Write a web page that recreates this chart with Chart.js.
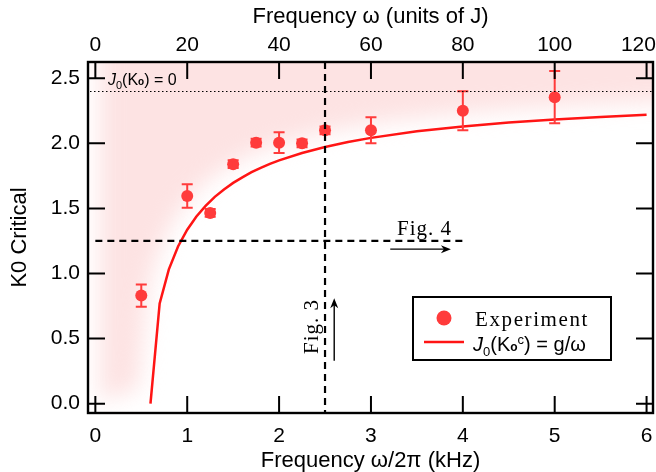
<!DOCTYPE html>
<html><head><meta charset="utf-8">
<script src="https://cdn.jsdelivr.net/npm/chart.js@4/dist/chart.umd.min.js"></script>
<style>html,body{margin:0;padding:0;background:#fff;overflow:hidden}</style>
</head><body><canvas id="c" width="656" height="472"></canvas>
<script>
// ---- data ----
const expFreq = [0.5, 1.0, 1.25, 1.5, 1.75, 2.0, 2.25, 2.5, 3.0, 4.0, 5.0];
const expK0   = [0.83, 1.595, 1.465, 1.84, 2.005, 2.005, 2.0, 2.10, 2.10, 2.25, 2.355];
const expErr  = [0.085, 0.09, 0.03, 0.03, 0.03, 0.08, 0.03, 0.03, 0.10, 0.15, 0.20];
const curveFreq = [0.6, 0.7, 0.8, 0.9, 1.0, 1.1, 1.2, 1.3, 1.4, 1.5, 1.6, 1.7, 1.8, 1.9, 2.0, 2.25, 2.5, 2.75, 3.0, 3.5, 4.0, 4.5, 5.0, 5.5, 6.0];
const curveK0   = [0.0, 0.77, 1.032, 1.208, 1.336, 1.438, 1.52, 1.589, 1.646, 1.696, 1.739, 1.778, 1.812, 1.842, 1.869, 1.926, 1.972, 2.010, 2.042, 2.093, 2.130, 2.160, 2.183, 2.203, 2.219];
const xTicks   = [0, 1, 2, 3, 4, 5, 6];
const topTicks = [0, 20, 40, 60, 80, 100, 120];
const yTicks   = [0, 0.5, 1.0, 1.5, 2.0, 2.5];
const zeroLineK0 = 2.4;        // J0(K0) = 0
const fig4K0 = 1.25, fig4From = 0, fig4To = 4;
const fig3Freq = 2.5;
const fig4Arrow = {x1: 3.21, x2: 3.87, y: 1.187};
const fig3Arrow = {x: 2.6, y1: 0.33, y2: 0.81};

const SANS = "'Liberation Sans', Arial, sans-serif";
const SERIF = "'Liberation Serif', 'Times New Roman', serif";
Chart.defaults.font.family = SANS;
Chart.defaults.color = '#000';

const RED_PT = '#ff3b3b';
const RED_LN = '#ff1414';

function drawRuns(ctx, x, y, runs) {
  ctx.textAlign = 'left';
  ctx.textBaseline = 'alphabetic';
  for (const r of runs) {
    ctx.font = r.font;
    ctx.fillText(r.t, x, y + (r.dy || 0));
    x += ctx.measureText(r.t).width + (r.gap || 0);
  }
}

const decor = {
  id: 'decor',
  beforeDatasetsDraw(chart) {
    const {ctx, chartArea: a, scales: {x, y}} = chart;
    ctx.save();
    ctx.beginPath();
    ctx.rect(a.left, a.top, a.right - a.left, a.bottom - a.top);
    ctx.clip();
    ctx.filter = 'blur(11px)';
    ctx.fillStyle = '#fde3e3';
    ctx.beginPath();
    ctx.moveTo(x.getPixelForValue(0.05), y.getPixelForValue(0.02));
    for (let i = 0; i < curveFreq.length; i++) {
      const px = x.getPixelForValue(curveFreq[i]) - 12;
      const py = y.getPixelForValue(Math.max(curveK0[i], 0.02)) - 12;
      ctx.lineTo(px, py);
    }
    ctx.lineTo(a.right + 40, y.getPixelForValue(2.219) - 12);
    ctx.lineTo(a.right + 40, a.top - 40);
    ctx.lineTo(x.getPixelForValue(0.05), a.top - 40);
    ctx.closePath();
    ctx.fill();
    ctx.restore();
  },
  afterDatasetsDraw(chart) {
    const {ctx, chartArea: a, scales: {x, y}} = chart;
    ctx.save();
    // error bars
    ctx.strokeStyle = RED_PT;
    ctx.lineWidth = 2;
    for (let i = 0; i < expFreq.length; i++) {
      const px = x.getPixelForValue(expFreq[i]);
      const y1 = y.getPixelForValue(expK0[i] + expErr[i]);
      const y2 = y.getPixelForValue(expK0[i] - expErr[i]);
      ctx.beginPath();
      ctx.moveTo(px, y1); ctx.lineTo(px, y2);
      ctx.moveTo(px - 5.5, y1); ctx.lineTo(px + 5.5, y1);
      ctx.moveTo(px - 5.5, y2); ctx.lineTo(px + 5.5, y2);
      ctx.stroke();
    }
    // dotted zero line
    ctx.strokeStyle = '#000';
    ctx.lineWidth = 1.2;
    ctx.setLineDash([1.5, 2.5]);
    ctx.beginPath();
    const yz = Math.round(y.getPixelForValue(zeroLineK0)) + 0.5;
    ctx.moveTo(a.left + 2, yz); ctx.lineTo(a.right, yz);
    ctx.stroke();
    // dashed lines
    ctx.lineWidth = 2.2;
    ctx.setLineDash([7, 5]);
    ctx.beginPath();
    const xv = x.getPixelForValue(fig3Freq);
    ctx.moveTo(xv, a.top); ctx.lineTo(xv, a.bottom);
    const yh = y.getPixelForValue(fig4K0);
    ctx.moveTo(x.getPixelForValue(fig4From), yh); ctx.lineTo(x.getPixelForValue(fig4To), yh);
    ctx.stroke();
    ctx.setLineDash([]);
    // arrows
    ctx.lineWidth = 1.4;
    ctx.fillStyle = '#000';
    const ax1 = x.getPixelForValue(fig4Arrow.x1), ax2 = x.getPixelForValue(fig4Arrow.x2), ay = y.getPixelForValue(fig4Arrow.y);
    ctx.beginPath(); ctx.moveTo(ax1, ay); ctx.lineTo(ax2 - 4, ay); ctx.stroke();
    ctx.beginPath(); ctx.moveTo(ax2, ay); ctx.lineTo(ax2 - 10, ay - 4); ctx.lineTo(ax2 - 7, ay); ctx.lineTo(ax2 - 10, ay + 4); ctx.closePath(); ctx.fill();
    const bx = x.getPixelForValue(fig3Arrow.x), by1 = y.getPixelForValue(fig3Arrow.y1), by2 = y.getPixelForValue(fig3Arrow.y2);
    ctx.beginPath(); ctx.moveTo(bx, by1); ctx.lineTo(bx, by2 + 4); ctx.stroke();
    ctx.beginPath(); ctx.moveTo(bx, by2); ctx.lineTo(bx - 4, by2 + 10); ctx.lineTo(bx, by2 + 7); ctx.lineTo(bx + 4, by2 + 10); ctx.closePath(); ctx.fill();
    // Fig labels
    ctx.fillStyle = '#000';
    ctx.font = '21px ' + SERIF;
    ctx.letterSpacing = '1px';
    ctx.textAlign = 'left'; ctx.textBaseline = 'alphabetic';
    ctx.fillText('Fig. 4', 397, 235);
    ctx.save();
    ctx.translate(318, 354);
    ctx.rotate(-Math.PI / 2);
    ctx.fillText('Fig. 3', 0, 0);
    ctx.restore();
    ctx.letterSpacing = '0px';
    // J0(K0)=0 label
    drawRuns(ctx, 108, 85, [
      {t: 'J', font: 'italic 16px ' + SANS},
      {t: '0', font: '11px ' + SANS, dy: 4},
      {t: '(K', font: '16px ' + SANS},
      {t: 'o', font: 'bold 10px ' + SANS},
      {t: ') = 0', font: '16px ' + SANS}
    ]);
    ctx.restore();
  },
  afterDraw(chart) {
    const {ctx, chartArea: a, scales} = chart;
    const {x, x2, y} = scales;
    ctx.save();
    ctx.strokeStyle = '#000';
    ctx.lineWidth = 2;
    const TL = 17;
    ctx.beginPath();
    for (const v of xTicks) {
      const p = x.getPixelForValue(v);
      ctx.moveTo(p, a.bottom); ctx.lineTo(p, a.bottom - TL);
    }
    for (const v of topTicks) {
      const p = x2.getPixelForValue(v);
      ctx.moveTo(p, a.top); ctx.lineTo(p, a.top + TL);
    }
    for (const v of yTicks) {
      const p = y.getPixelForValue(v);
      ctx.moveTo(a.left, p); ctx.lineTo(a.left + TL, p);
      ctx.moveTo(a.right, p); ctx.lineTo(a.right - TL, p);
    }
    ctx.stroke();
    ctx.lineWidth = 2.4;
    ctx.strokeRect(a.left, a.top, a.right - a.left, a.bottom - a.top);
    // legend
    ctx.lineWidth = 2;
    ctx.fillStyle = '#fff';
    ctx.fillRect(413, 297, 198, 63);
    ctx.strokeRect(413, 297, 198, 63);
    ctx.fillStyle = RED_PT;
    ctx.beginPath(); ctx.arc(444, 318, 7.5, 0, Math.PI * 2); ctx.fill();
    ctx.strokeStyle = RED_LN; ctx.lineWidth = 2.5;
    ctx.beginPath(); ctx.moveTo(424, 342); ctx.lineTo(464, 342); ctx.stroke();
    ctx.fillStyle = '#000';
    ctx.font = '21px ' + SERIF;
    ctx.letterSpacing = '1.6px';
    ctx.textAlign = 'left'; ctx.textBaseline = 'alphabetic';
    ctx.fillText('Experiment', 475, 326);
    ctx.letterSpacing = '0px';
    drawRuns(ctx, 473, 351, [
      {t: 'J', font: 'italic 20px ' + SANS},
      {t: '0', font: '13px ' + SANS, dy: 5},
      {t: '(K', font: '20px ' + SANS},
      {t: 'o', font: 'bold 12px ' + SANS},
      {t: 'c', font: '13px ' + SANS, dy: -7},
      {t: ') = g/ω', font: '20px ' + SANS}
    ]);
    ctx.restore();
  }
};

function fixedTicks(arr) { return s => { s.ticks = arr.map(v => ({value: v})); }; }
function fitH(h) { return s => { s.height = h; s.paddingLeft = 0; s.paddingRight = 0; }; }
function fitW(w) { return s => { s.width = w; s.paddingTop = 0; s.paddingBottom = 0; }; }

new Chart(document.getElementById('c'), {
  type: 'scatter',
  data: {
    datasets: [
      {
        type: 'line',
        data: curveFreq.map((v, i) => ({x: v, y: curveK0[i]})),
        borderColor: RED_LN, borderWidth: 2.5, pointRadius: 0, tension: 0,
        fill: false, xAxisID: 'x', yAxisID: 'y', order: 2
      },
      {
        type: 'scatter',
        data: expFreq.map((v, i) => ({x: v, y: expK0[i]})),
        backgroundColor: RED_PT, borderWidth: 0, pointRadius: 6,
        xAxisID: 'x', yAxisID: 'y', order: 1
      }
    ]
  },
  options: {
    responsive: false, animation: false, devicePixelRatio: 1,
    layout: {autoPadding: false, padding: {left: 0, right: 3, top: 0, bottom: 0}},
    plugins: {legend: {display: false}, tooltip: {enabled: false}},
    scales: {
      x: {
        type: 'linear', position: 'bottom', min: -0.08, max: 6.07,
        afterBuildTicks: fixedTicks(xTicks),
        ticks: {font: {size: 21}, padding: 11, maxRotation: 0, autoSkip: false, callback: v => String(v)},
        grid: {display: false, drawTicks: false}, border: {display: false},
        title: {display: true, text: 'Frequency ω/2π (kHz)', font: {size: 22, lineHeight: 1}, padding: {top: 0, bottom: 0}},
        afterFit: fitH(59)
      },
      x2: {
        type: 'linear', position: 'top', min: -1.6, max: 121.4,
        afterBuildTicks: fixedTicks(topTicks),
        ticks: {font: {size: 21}, padding: 4, maxRotation: 0, autoSkip: false,
                callback: v => v === 120 ? '120\u2002 ' : String(v)},
        grid: {display: false, drawTicks: false}, border: {display: false},
        title: {display: true, text: 'Frequency ω (units of J)', font: {size: 22, lineHeight: 1}, padding: {top: 6, bottom: 0}},
        afterFit: fitH(62)
      },
      y: {
        type: 'linear', position: 'left', min: -0.072, max: 2.625,
        afterBuildTicks: fixedTicks(yTicks),
        ticks: {font: {size: 21}, padding: 8, autoSkip: false, callback: v => v.toFixed(1)},
        grid: {display: false, drawTicks: false}, border: {display: false},
        title: {display: true, text: 'K0 Critical', font: {size: 22, lineHeight: 1}, padding: {top: 9, bottom: 0}},
        afterFit: fitW(88)
      }
    }
  },
  plugins: [decor]
});
</script>
</body></html>
